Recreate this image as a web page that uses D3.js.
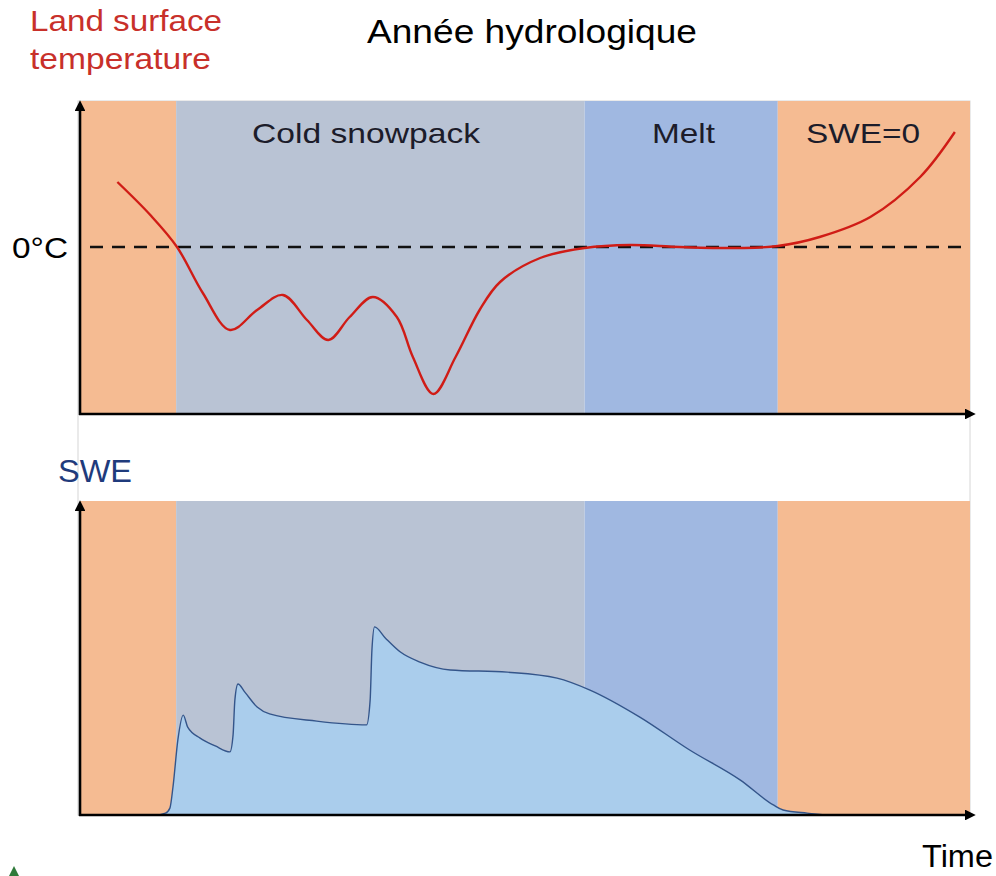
<!DOCTYPE html>
<html>
<head>
<meta charset="utf-8">
<script src="https://cdn.jsdelivr.net/npm/d3@7"></script>
<style>
body { margin: 0; background: #fff; }
text { font-family: "Liberation Sans", Arial, sans-serif; }
</style>
</head>
<body>
<svg width="996" height="876"></svg>
<script>
// time axis in % of the hydrological year
var bandNames = ["", "Cold snowpack", "Melt", "SWE=0"],
    bandStart = [0, 10.8, 56.7, 78.4],
    bandEnd = [10.8, 56.7, 78.4, 100],
    bandColors = ["#f5bb92", "#b9c3d4", "#a0b8e1", "#f5bb92"];

// land surface temperature (relative, 0 = 0°C)
var tempTime = [4.2, 7.9, 10.9, 13.8, 16.85, 19.9, 22.8, 25.5, 27.9, 30.3, 32.9, 35.6, 37.4, 39.7, 42.2, 44.9, 47.2, 51.7, 56.7, 61.8, 67.4, 74.2, 78.4, 83.1, 88.8, 94.4, 98.3],
    tempValue = [3.25, 1.6, 0, -2.3, -4.15, -3.15, -2.4, -3.65, -4.65, -3.5, -2.5, -3.5, -5.5, -7.35, -5.5, -3.15, -1.75, -0.55, -0.05, 0.1, 0, -0.05, 0.05, 0.5, 1.5, 3.5, 5.75];

// snow water equivalent
var sweTime = [0, 8.4, 9.6, 10.1, 10.45, 11.0, 11.6, 12.1, 13.5, 15.2, 16.85, 17.2, 17.4, 17.75, 18.5, 19.9, 21.3, 26.6, 32.2, 32.6, 32.8, 33.1, 34.3, 36.0, 38.2, 41.6, 48.0, 53.6, 57.3, 62.9, 68.5, 74.2, 77.9, 79.0, 81.7, 84.3, 100],
    sweValue = [0, 0, 0.6, 2.2, 9, 24, 31.8, 28, 24.5, 22, 20.1, 25.5, 36.6, 41.7, 39.2, 34.4, 32.2, 29.9, 28.7, 36.6, 52.5, 59.9, 56.4, 51.9, 48.7, 46.2, 45.5, 43.6, 39.8, 31.2, 20.7, 11.1, 3.2, 1.6, 0.6, 0, 0];

var svg = d3.select("svg");

var x = d3.scaleLinear().domain([0, 100]).range([80, 970]),
    yT = d3.scaleLinear().domain([-8.35, 7.3]).range([414, 101]),
    yS = d3.scaleLinear().domain([0, 100]).range([815, 501]);

var bands = bandNames.map(function(n, i) {
    return {name: n, start: bandStart[i], end: bandEnd[i], color: bandColors[i]};
});

svg.append("defs").append("marker")
    .attr("id", "arrow")
    .attr("viewBox", "0 0 10 10")
    .attr("refX", 2).attr("refY", 5)
    .attr("markerWidth", 4.2).attr("markerHeight", 4.2)
    .attr("orient", "auto")
  .append("path")
    .attr("d", "M0,0L10,5L0,10z")
    .attr("fill", "#000");

// outline around both panels
svg.append("rect")
    .attr("x", 78).attr("y", 101)
    .attr("width", 892).attr("height", 714)
    .attr("fill", "none")
    .attr("stroke", "#d6d6d6")
    .attr("stroke-width", 1);

function drawBands(yScale) {
    svg.append("g").selectAll("rect")
        .data(bands)
        .enter().append("rect")
        .attr("x", function(d) { return x(d.start); })
        .attr("width", function(d) { return x(d.end) - x(d.start); })
        .attr("y", yScale.range()[1])
        .attr("height", yScale.range()[0] - yScale.range()[1])
        .attr("fill", function(d) { return d.color; });
}

drawBands(yT);
drawBands(yS);

// stretched text helper (the source lettering is wide)
function label(xp, yp, size, len, color, str) {
    return svg.append("text")
        .attr("x", xp).attr("y", yp)
        .style("font-size", size + "px")
        .attr("textLength", len)
        .attr("lengthAdjust", "spacingAndGlyphs")
        .attr("fill", color)
        .text(str);
}

// band labels
var labelLeft = {"Cold snowpack": 252, "Melt": 652, "SWE=0": 806},
    labelLen = {"Cold snowpack": 228, "Melt": 63, "SWE=0": 114};
bands.filter(function(d) { return d.name; }).forEach(function(d) {
    label(labelLeft[d.name], 143, 28, labelLen[d.name], "#1c1c2a", d.name);
});

// 0°C line
svg.append("line")
    .attr("x1", 90).attr("x2", 970)
    .attr("y1", yT(0)).attr("y2", yT(0))
    .attr("stroke", "#111")
    .attr("stroke-width", 2.6)
    .attr("stroke-dasharray", "13,9");

var tempLine = d3.line()
    .curve(d3.curveCatmullRom.alpha(0.5))
    .x(function(d) { return x(d[0]); })
    .y(function(d) { return yT(d[1]); });

svg.append("path")
    .datum(d3.zip(tempTime, tempValue))
    .attr("d", tempLine)
    .attr("fill", "none")
    .attr("stroke", "#d01c16")
    .attr("stroke-width", 2.4);

var sweArea = d3.area()
    .curve(d3.curveMonotoneX)
    .x(function(d) { return x(d[0]); })
    .y0(yS(0))
    .y1(function(d) { return yS(d[1]); });

var sweLine = d3.line()
    .curve(d3.curveMonotoneX)
    .x(function(d) { return x(d[0]); })
    .y(function(d) { return yS(d[1]); });

var sweData = d3.zip(sweTime, sweValue);

svg.append("path")
    .datum(sweData)
    .attr("d", sweArea)
    .attr("fill", "#aacdec");

svg.append("path")
    .datum(sweData)
    .attr("d", sweLine)
    .attr("fill", "none")
    .attr("stroke", "#34558a")
    .attr("stroke-width", 1.4);

// axes with arrows
function drawAxes(yScale) {
    var y0 = yScale.range()[0], y1 = yScale.range()[1];
    svg.append("line")
        .attr("x1", x(0)).attr("x2", x(0))
        .attr("y1", y0 + 1).attr("y2", y1 + 8)
        .attr("stroke", "#000").attr("stroke-width", 2.6)
        .attr("marker-end", "url(#arrow)");
    svg.append("line")
        .attr("x1", x(0) - 1).attr("x2", x(100) - 3)
        .attr("y1", y0).attr("y2", y0)
        .attr("stroke", "#000").attr("stroke-width", 2.6)
        .attr("marker-end", "url(#arrow)");
}
drawAxes(yT);
drawAxes(yS);

// texts
label(367, 43, 34, 330, "#000", "Année hydrologique");
label(30, 31, 30, 192, "#c8302a", "Land surface");
label(30, 69, 30, 181, "#c8302a", "temperature");
label(12, 258, 29, 56, "#000", "0°C");
label(58, 482, 32, 74, "#1f3b7c", "SWE");
label(922, 867, 31, 71, "#000", "Time");

svg.append("path")
    .attr("d", "M9,876L14,866L19,876z")
    .attr("fill", "#2f7a3a");
</script>
</body>
</html>
